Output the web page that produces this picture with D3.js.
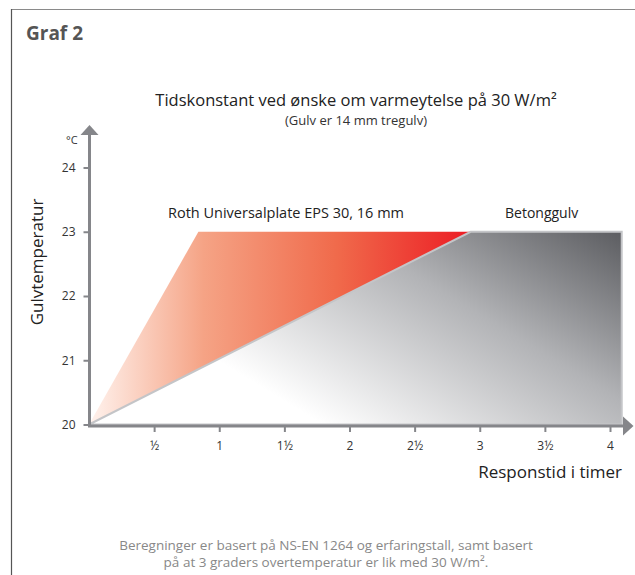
<!DOCTYPE html>
<html><head><meta charset="utf-8">
<script src="https://cdn.jsdelivr.net/npm/d3@7"></script>
<style>
html,body{margin:0;padding:0;background:#fff;}
svg{display:block;font-family:"Open Sans","Noto Sans",sans-serif;}
</style></head>
<body>
<div id="chart"></div>
<script>
// ---- data ----
const xTicks = [0.5, 1, 1.5, 2, 2.5, 3, 3.5, 4];
const xTickLabels = ["½", "1", "1½", "2", "2½", "3", "3½", "4"];
const yTicks = [20, 21, 22, 23, 24];
const yTickLabels = ["20", "21", "22", "23", "24"];
// Roth Universalplate EPS 30, 16 mm  (hours, °C)
const rothHours = [0, 0.84, 2.93];
const rothTemps = [20, 23, 23];
// Betonggulv (hours, °C)
const betongHours = [0, 2.93, 4.09, 4.09];
const betongTemps = [20, 23, 23, 20];
const seriesNames = ["Roth Universalplate EPS 30, 16 mm", "Betonggulv"];

const W = 635, H = 575;
const svg = d3.select("#chart").append("svg").attr("width", W).attr("height", H);

const x = d3.scaleLinear().domain([0, 4]).range([89, 610]);
const y = d3.scaleLinear().domain([20, 24]).range([424.5, 167.5]);

// frame
svg.append("line").attr("x1", 11).attr("x2", W).attr("y1", 9.5).attr("y2", 9.5).attr("stroke", "#8a8a8a").attr("stroke-width", 1.2);
svg.append("line").attr("x1", 11.5).attr("x2", 11.5).attr("y1", 9).attr("y2", H).attr("stroke", "#555").attr("stroke-width", 1.2);

svg.append("text").attr("x", 26).attr("y", 40).attr("font-size", 19).attr("font-weight", "bold").attr("fill", "#555").text("Graf 2");

svg.append("text").attr("x", 356).attr("y", 106).attr("text-anchor", "middle").attr("font-size", 16.5).attr("fill", "#222").text("Tidskonstant ved ønske om varmeytelse på 30 W/m²");
svg.append("text").attr("x", 356).attr("y", 125).attr("text-anchor", "middle").attr("font-size", 13).attr("fill", "#333").text("(Gulv er 14 mm tregulv)");

const defs = svg.append("defs");
const rg = defs.append("linearGradient").attr("id", "redg").attr("gradientUnits", "userSpaceOnUse")
  .attr("x1", x(0)).attr("y1", 0).attr("x2", x(2.93)).attr("y2", 0);
[[0, "#fff3ee"], [0.3, "#f5a385"], [0.65, "#f06a4b"], [1, "#ec1c24"]].forEach(s => rg.append("stop").attr("offset", s[0]).attr("stop-color", s[1]));

const gg = defs.append("linearGradient").attr("id", "grayg").attr("gradientUnits", "userSpaceOnUse")
  .attr("x1", 621).attr("y1", 232).attr("x2", 455).attr("y2", 505);
[[0, "#5c5d61"], [0.45, "#b2b3b6"], [1, "#ffffff"]].forEach(s => gg.append("stop").attr("offset", s[0]).attr("stop-color", s[1]));

const line = d3.line().x(d => x(d[0])).y(d => y(d[1]));
const rothPts = rothHours.map((h, i) => [h, rothTemps[i]]);
const betongPts = betongHours.map((h, i) => [h, betongTemps[i]]);

svg.append("path").attr("d", line(rothPts) + "Z").attr("fill", "url(#redg)");
svg.append("path").attr("d", line(betongPts) + "Z").attr("fill", "url(#grayg)")
  .attr("stroke", "#c4c5c8").attr("stroke-width", 2).attr("stroke-linejoin", "miter");

// labels
svg.append("text").attr("x", 168).attr("y", 218).attr("font-size", 14.5).attr("fill", "#222").text(seriesNames[0]);
svg.append("text").attr("x", 505).attr("y", 218).attr("font-size", 14).attr("fill", "#222").text(seriesNames[1]);

const axisColor = "#85868a";
// x axis
const xa = svg.append("g").attr("transform", "translate(0,426)")
  .call(d3.axisBottom(x).tickValues(xTicks).tickFormat((d, i) => xTickLabels[i]).tickSize(6).tickPadding(9));
xa.select(".domain").remove();
xa.selectAll(".tick line").attr("stroke", axisColor).attr("stroke-width", 2);
xa.selectAll(".tick text").attr("font-size", 12).attr("fill", "#333").attr("font-family", "Open Sans, sans-serif");
svg.append("line").attr("x1", 88).attr("x2", 624).attr("y1", 426).attr("y2", 426).attr("stroke", axisColor).attr("stroke-width", 3);
svg.append("path").attr("d", "M623,416.5L633.5,426L623,435.5Z").attr("fill", axisColor);

// y axis
const ya = svg.append("g").attr("transform", "translate(89.5,0)")
  .call(d3.axisLeft(y).tickValues(yTicks).tickFormat((d, i) => yTickLabels[i]).tickSize(6).tickPadding(8));
ya.select(".domain").remove();
ya.selectAll(".tick line").attr("stroke", axisColor).attr("stroke-width", 2);
ya.selectAll(".tick text").attr("font-size", 12).attr("fill", "#333").attr("font-family", "Open Sans, sans-serif");
svg.append("line").attr("x1", 89.5).attr("x2", 89.5).attr("y1", 427).attr("y2", 134).attr("stroke", axisColor).attr("stroke-width", 3);
svg.append("path").attr("d", "M80.5,135L89.5,125L98.5,135Z").attr("fill", axisColor);

svg.append("text").attr("x", 66).attr("y", 144).attr("font-size", 11).attr("fill", "#333").text("°C");

svg.append("text").attr("transform", "translate(43,262) rotate(-90)").attr("text-anchor", "middle")
  .attr("font-size", 17).attr("fill", "#222").text("Gulvtemperatur");
svg.append("text").attr("x", 622).attr("y", 478).attr("text-anchor", "end").attr("font-size", 17).attr("fill", "#222").text("Responstid i timer");

svg.append("text").attr("x", 326).attr("y", 550).attr("text-anchor", "middle").attr("font-size", 13.5).attr("fill", "#888").text("Beregninger er basert på NS-EN 1264 og erfaringstall, samt basert");
svg.append("text").attr("x", 326).attr("y", 567).attr("text-anchor", "middle").attr("font-size", 13.5).attr("fill", "#888").text("på at 3 graders overtemperatur er lik med 30 W/m².");
</script>
</body></html>
